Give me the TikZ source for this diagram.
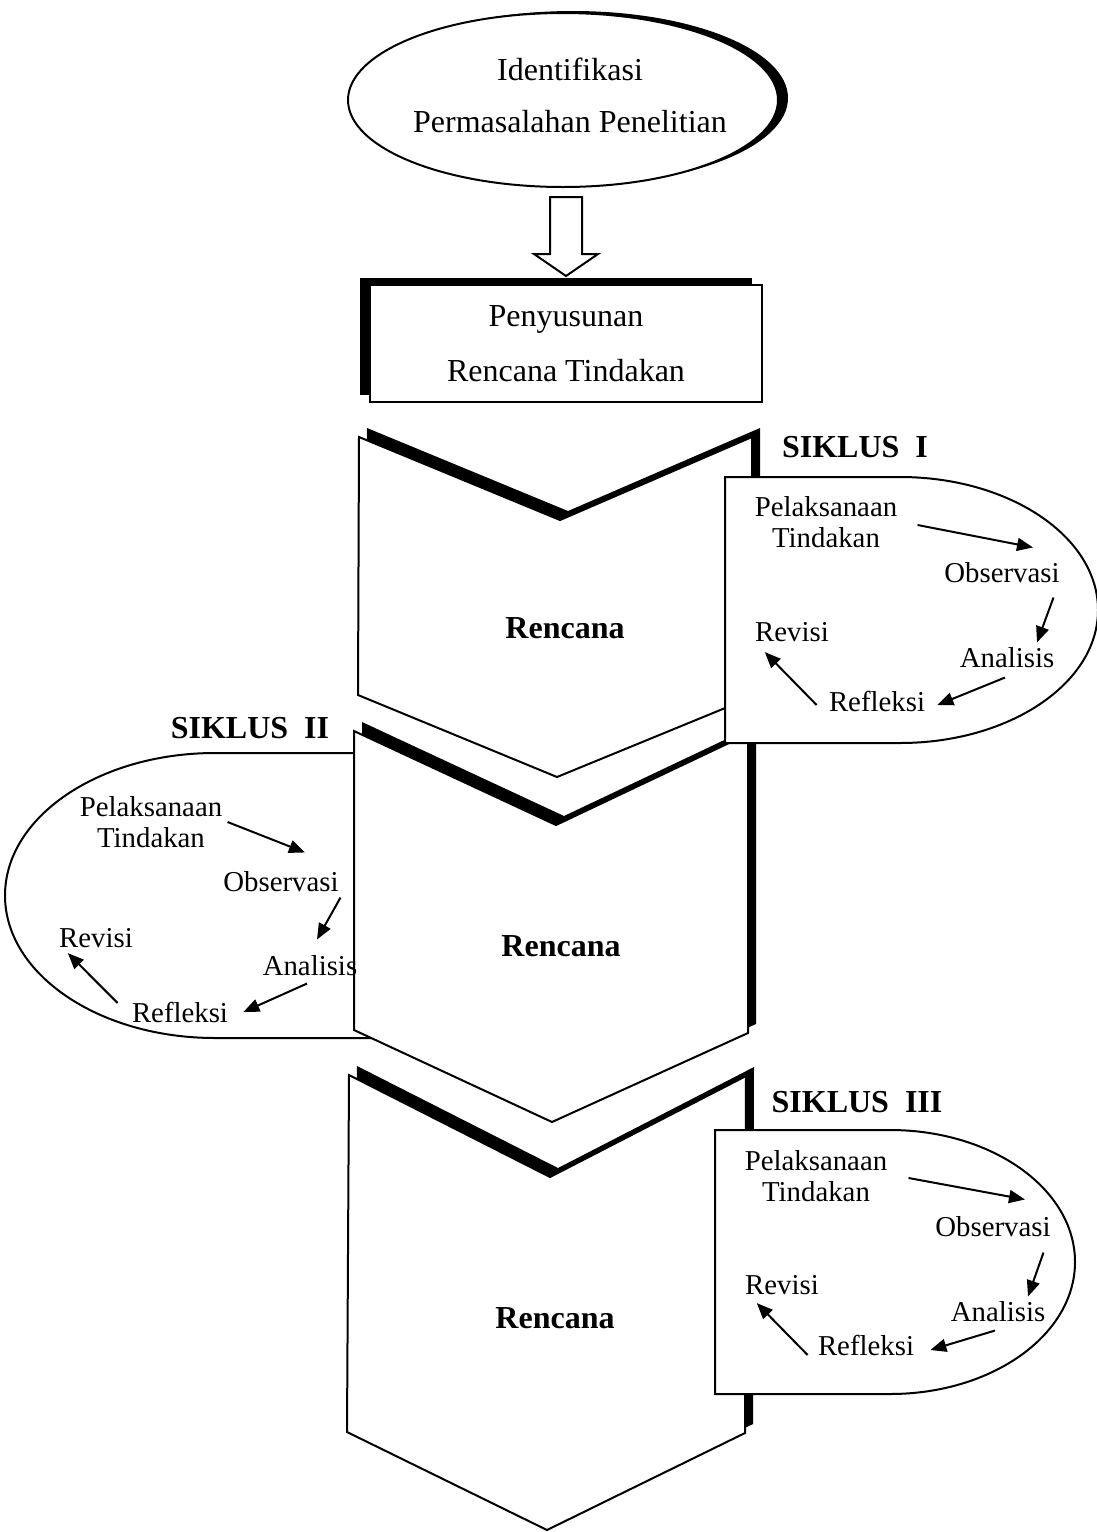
\documentclass[tikz,border=0pt]{standalone}
\usepackage{fontspec}
\setmainfont{Liberation Serif}
\usetikzlibrary{shapes.geometric}
\usetikzlibrary{shadows}
\usetikzlibrary{arrows.meta}

\begin{document}
\begin{tikzpicture}[x=0.5pt, y=-0.5pt,
  box/.style={draw, line width=1pt, fill=white},
  maintext/.style={font=\fontsize{16}{26}\selectfont, align=center},
  boldtext/.style={font=\fontsize{16}{19}\selectfont\bfseries},
  steptext/.style={font=\fontsize{14.4}{15.5}\selectfont, inner sep=0pt, align=center},
  cycarrow/.style={line width=1pt, -{Triangle[length=8pt, width=6.5pt]}}]
\useasboundingbox (0,0) rectangle (1097,1532);

% problem and plan
\node[ellipse, box, minimum width=215pt, minimum height=87pt,
  drop shadow={shadow xshift=5pt, shadow yshift=1pt, fill=black, opacity=1}] (ident) at (563,100) {};
\node[maintext] (identtext) at (570,95) {Identifikasi\\Permasalahan Penelitian};
\draw[box] (550,197) -- (582,197) -- (582,254) -- (598,254) -- (566,276) -- (534,254) -- (550,254) -- cycle;
\node[box, minimum width=196pt, minimum height=58.5pt,
  drop shadow={shadow xshift=-5pt, shadow yshift=3.5pt, fill=black, opacity=1},
  maintext, font=\fontsize{16}{27.5}\selectfont] (plan) at (566,343.5) {Penyusunan\\Rencana Tindakan};

% first plan
\fill[shift={(8,-9)}] (359,437) -- (560,520) -- (752,437) -- (752,697) -- (557,777) -- (358,695) -- cycle;
\draw[box] (359,437) -- (560,520) -- (752,437) -- (752,697) -- (557,777) -- (358,695) -- cycle;
\node[boldtext] (rencana1) at (565,628) {Rencana};

% siklus II box
\draw[box] (380,753) -- (215,753) arc[start angle=90, end angle=270, x radius=105pt, y radius=71.25pt] -- (380,1038) -- cycle;
\node[boldtext] (siklus2) at (250,728) {SIKLUS\ \ II};

% second plan
\fill[shift={(8,-9)}] (354,731) -- (556,825) -- (748,734) -- (748,1033) -- (552,1122) -- (354,1030) -- cycle;
\draw[box] (354,731) -- (556,825) -- (748,734) -- (748,1033) -- (552,1122) -- (354,1030) -- cycle;
\node[boldtext] (rencana2) at (561,946) {Rencana};

\node[steptext] (pel2) at (151,822) {Pelaksanaan\\Tindakan};
\node[steptext] (obs2) at (281,882) {Observasi};
\node[steptext] (ana2) at (310,966) {Analisis};
\node[steptext] (ref2) at (180,1012) {Refleksi};
\node[steptext] (rev2) at (96,938) {Revisi};
\draw[cycarrow] ([shift={(5,0)}]pel2.east) -- ([shift={(24,-19)}]obs2.north);
\draw[cycarrow] ([shift={(1.5,5)}]obs2.south east) -- ([shift={(7,-16)}]ana2.north);
\draw[cycarrow] ([shift={(-3,7)}]ana2.south) -- ([shift={(15,0)}]ref2.east);
\draw[cycarrow] ([shift={(-14,-9)}]ref2.west) -- ([shift={(9,5)}]rev2.south west);

% siklus I box
\draw[box] (725,477) -- (900,477) arc[start angle=90, end angle=-90, x radius=99pt, y radius=66.5pt] -- (725,743) -- cycle;
\node[boldtext] (siklus1) at (855,447) {SIKLUS\ \ I};

\node[steptext] (pel1) at (826,522) {Pelaksanaan\\Tindakan};
\node[steptext] (obs1) at (1002,573) {Observasi};
\node[steptext] (ana1) at (1007,658) {Analisis};
\node[steptext] (ref1) at (877,701) {Refleksi};
\node[steptext] (rev1) at (792,632) {Revisi};
\draw[cycarrow] ([shift={(20,3)}]pel1.east) -- ([shift={(31,-15)}]obs1.north);
\draw[cycarrow] ([shift={(-6.5,14)}]obs1.south east) -- ([shift={(30,-5)}]ana1.north);
\draw[cycarrow] ([shift={(-2,9)}]ana1.south) -- ([shift={(12,4)}]ref1.east);
\draw[cycarrow] ([shift={(-12,4)}]ref1.west) -- ([shift={(10,10)}]rev1.south west);

% third plan
\fill[shift={(8,-9)}] (349,1075) -- (550,1177) -- (746,1076) -- (745,1433) -- (547,1530) -- (347,1432) -- cycle;
\draw[box] (349,1075) -- (550,1177) -- (746,1076) -- (745,1433) -- (547,1530) -- (347,1432) -- cycle;
\node[boldtext] (rencana3) at (555,1318) {Rencana};

% siklus III box
\draw[box] (715,1130) -- (890,1130) arc[start angle=90, end angle=-90, x radius=92.5pt, y radius=66pt] -- (715,1394) -- cycle;
\node[boldtext] (siklus3) at (857,1102) {SIKLUS\ \ III};

\node[steptext] (pel3) at (816,1176) {Pelaksanaan\\Tindakan};
\node[steptext] (obs3) at (993,1227) {Observasi};
\node[steptext] (ana3) at (998,1312) {Analisis};
\node[steptext] (ref3) at (866,1345) {Refleksi};
\node[steptext] (rev3) at (782,1285) {Revisi};
\draw[cycarrow] ([shift={(21,2)}]pel3.east) -- ([shift={(32,-17)}]obs3.north);
\draw[cycarrow] ([shift={(-7.5,15)}]obs3.south east) -- ([shift={(30,-5)}]ana3.north);
\draw[cycarrow] ([shift={(-3,8)}]ana3.south) -- ([shift={(16,5)}]ref3.east);
\draw[cycarrow] ([shift={(-10,10)}]ref3.west) -- ([shift={(12,8)}]rev3.south west);

\end{tikzpicture}
\end{document}
